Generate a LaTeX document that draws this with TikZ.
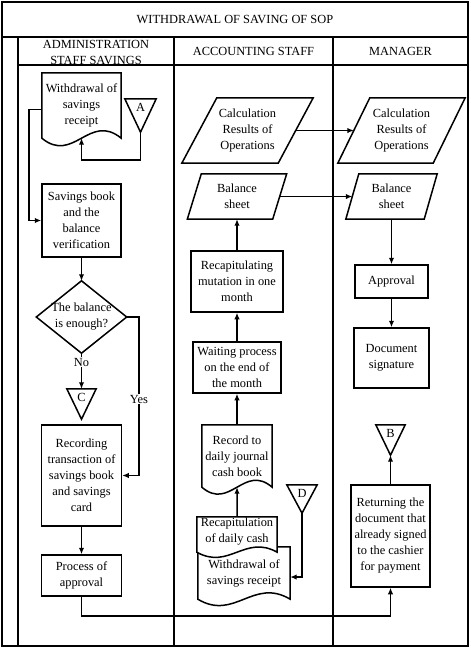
\documentclass[tikz,border=0pt]{standalone}
\usepackage{fontspec}
\setmainfont{Liberation Serif}
\usetikzlibrary{arrows.meta,calc}
\newcommand\docdraw[4][]{%
  \draw[shp,#1] (#2.south east) -- (#2.north east) -- (#2.north west) -- (#2.south west)
    .. controls ($(#2.south west)!0.4!(#2.south east)+(0,#4)$) and ($(#2.south west)!0.6!(#2.south east)+(0,-#4)$) .. (#2.south east)
    coordinate[pos=0.5] (#3) -- cycle;}
\newcommand\paradraw[2]{%
  \draw[shp] ($(#1.north west)+(#2,0)$) -- ($(#1.north east)+(#2,0)$) -- ($(#1.south east)+(-#2,0)$) -- ($(#1.south west)+(-#2,0)$) -- cycle;}
\newcommand\tridraw[1]{\draw[shp] (#1.north west) -- (#1.north east) -- (#1.south) -- cycle;}
\begin{document}
\begin{tikzpicture}[x=1pt,y=-1pt,
  txt/.style={align=center,inner sep=0pt,font=\fontsize{12.4}{16}\selectfont},
  box/.style={txt,draw,line width=1.5pt},
  ghost/.style={txt},
  shp/.style={draw,line width=1.5pt},
  arr/.style={line width=1.5pt,-{Latex[length=6.5pt,width=5.5pt]}},
  frm/.style={line width=1.5pt},
  lab/.style={txt,fill=white,inner sep=1pt}]
\useasboundingbox (0,0) rectangle (471,648);
% frame
\draw[frm] (2,2) rectangle (468,646);
\draw[frm] (2,37) -- (468,37);
\draw[frm] (18,37) -- (18,646);
\draw[frm] (18,65) -- (468,65);
\draw[frm] (174,37) -- (174,646);
\draw[frm] (333,37) -- (333,646);
\node[txt] (title) at (235,19.5) {WITHDRAWAL OF SAVING OF SOP};
\node[txt] (h1) at (96,52) {ADMINISTRATION\\STAFF SAVINGS};
\node[txt] (h2) at (253.5,51.5) {ACCOUNTING STAFF};
\node[txt] (h3) at (400.5,51.5) {MANAGER};
% admin
\node[ghost,minimum width=79pt,minimum height=65pt] (wd) at (81.5,105.5) {Withdrawal of\\savings\\receipt};
\docdraw{wd}{wdw}{26}
\node[ghost,minimum width=31pt,minimum height=33pt] (A) at (140.5,115.5) {};
\tridraw{A}
\node[txt] (Al) at (140.5,107.5) {A};
\node[box,minimum width=79pt,minimum height=73pt] (sav) at (81.5,220.5) {Savings book\\and the\\balance\\verification};
\node[ghost,minimum width=90pt,minimum height=72pt] (dia) at (81.5,317) {The balance\\is enough?};
\draw[shp] (dia.north) -- (dia.east) -- (dia.south) -- (dia.west) -- cycle;
\node[ghost,minimum width=29pt,minimum height=30pt] (C) at (81.5,404) {};
\tridraw{C}
\node[txt] (Cl) at (81.5,397) {C};
\node[box,minimum width=80pt,minimum height=101pt] (rec) at (81.5,475.5) {Recording\\transaction of\\savings book\\and savings\\card};
\node[box,minimum width=80pt,minimum height=41pt] (proc) at (81.5,575.5) {Process of\\approval};
% accounting
\node[ghost,minimum width=96pt,minimum height=65pt] (cal1) at (247.5,130.5) {Calculation\\Results of\\Operations};
\paradraw{cal1}{17.5}
\node[ghost,minimum width=85pt,minimum height=45pt] (bal1) at (237,196.5) {Balance\\sheet};
\paradraw{bal1}{7}
\node[box,minimum width=92pt,minimum height=61pt] (rcm) at (237,281.5) {Recapitulating\\mutation in one\\month};
\node[box,minimum width=88pt,minimum height=51pt] (wait) at (237,367.5) {Waiting process\\on the end of\\the month};
\node[ghost,minimum width=70pt,minimum height=62pt] (recd) at (237,456) {Record to\\daily journal\\cash book};
\docdraw{recd}{recdw}{24}
\node[ghost,minimum width=92pt,minimum height=52pt] (wsr) at (244,573) {Withdrawal of\\savings receipt};
\docdraw{wsr}{wsrw}{22}
\node[ghost,minimum width=80pt,minimum height=35pt] (recap) at (237,534.5) {};
\docdraw[fill=white]{recap}{recapw}{18}
\node[txt] (recapt) at (237,531.5) {Recapitulation\\of daily cash};
\node[ghost,minimum width=30pt,minimum height=28pt] (D) at (302,499) {};
\tridraw{D}
\node[txt] (Dl) at (302,493) {D};
% manager
\node[ghost,minimum width=95pt,minimum height=65pt] (cal2) at (401.5,130.5) {Calculation\\Results of\\Operations};
\paradraw{cal2}{16}
\node[ghost,minimum width=78pt,minimum height=45pt] (bal2) at (391.5,196.5) {Balance\\sheet};
\paradraw{bal2}{6.5}
\node[box,minimum width=73pt,minimum height=33pt] (appr) at (391.5,281.5) {Approval};
\node[box,minimum width=75pt,minimum height=60pt] (sig) at (391.5,358) {Document\\signature};
\node[ghost,minimum width=29pt,minimum height=30pt] (B) at (390.5,440) {};
\tridraw{B}
\node[txt] (Bl) at (390.5,433) {B};
\node[box,minimum width=79pt,minimum height=102pt] (ret) at (390.5,536) {Returning the\\document that\\already signed\\to the cashier\\for payment};
% connectors
\coordinate (aturn) at (140.5,160);
\draw[arr] (A.south) -- (aturn) -| (wdw);
\draw[arr] ([yshift=-4pt]wd.west) -- ++(-13,0) |- (sav.west);
\draw[arr] (sav.south) -- (dia.north);
\draw[arr] (dia.south) -- node[lab,pos=0.25] (no) {No} (C.north);
\coordinate (yturn) at (139,317);
\draw[arr] (dia.east) -- (yturn) |- (rec.east);
\node[lab] (yes) at (139,399) {Yes};
\draw[arr] (rec.south) -- (proc.north);
\coordinate (pturn) at (81.5,616);
\draw[arr] (proc.south) -- (pturn) -| (ret.south);
\draw[arr] (recap.north) -- (recdw);
\draw[arr] (recd.north) -- (wait.south);
\draw[arr] (wait.north) -- (rcm.south);
\draw[arr] (rcm.north) -- (bal1.south);
\draw[arr] (cal1.east) -- (cal2.west);
\draw[arr] (bal1.east) -- (bal2.west);
\coordinate (dturn) at (302,577);
\draw[arr] (D.south) -- (dturn) -- (dturn -| wsr.east);
\draw[arr] (bal2.south) -- (appr.north);
\draw[arr] (appr.south) -- (sig.north);
\draw[arr] (ret.north) -- (B.south);
\end{tikzpicture}
\end{document}
